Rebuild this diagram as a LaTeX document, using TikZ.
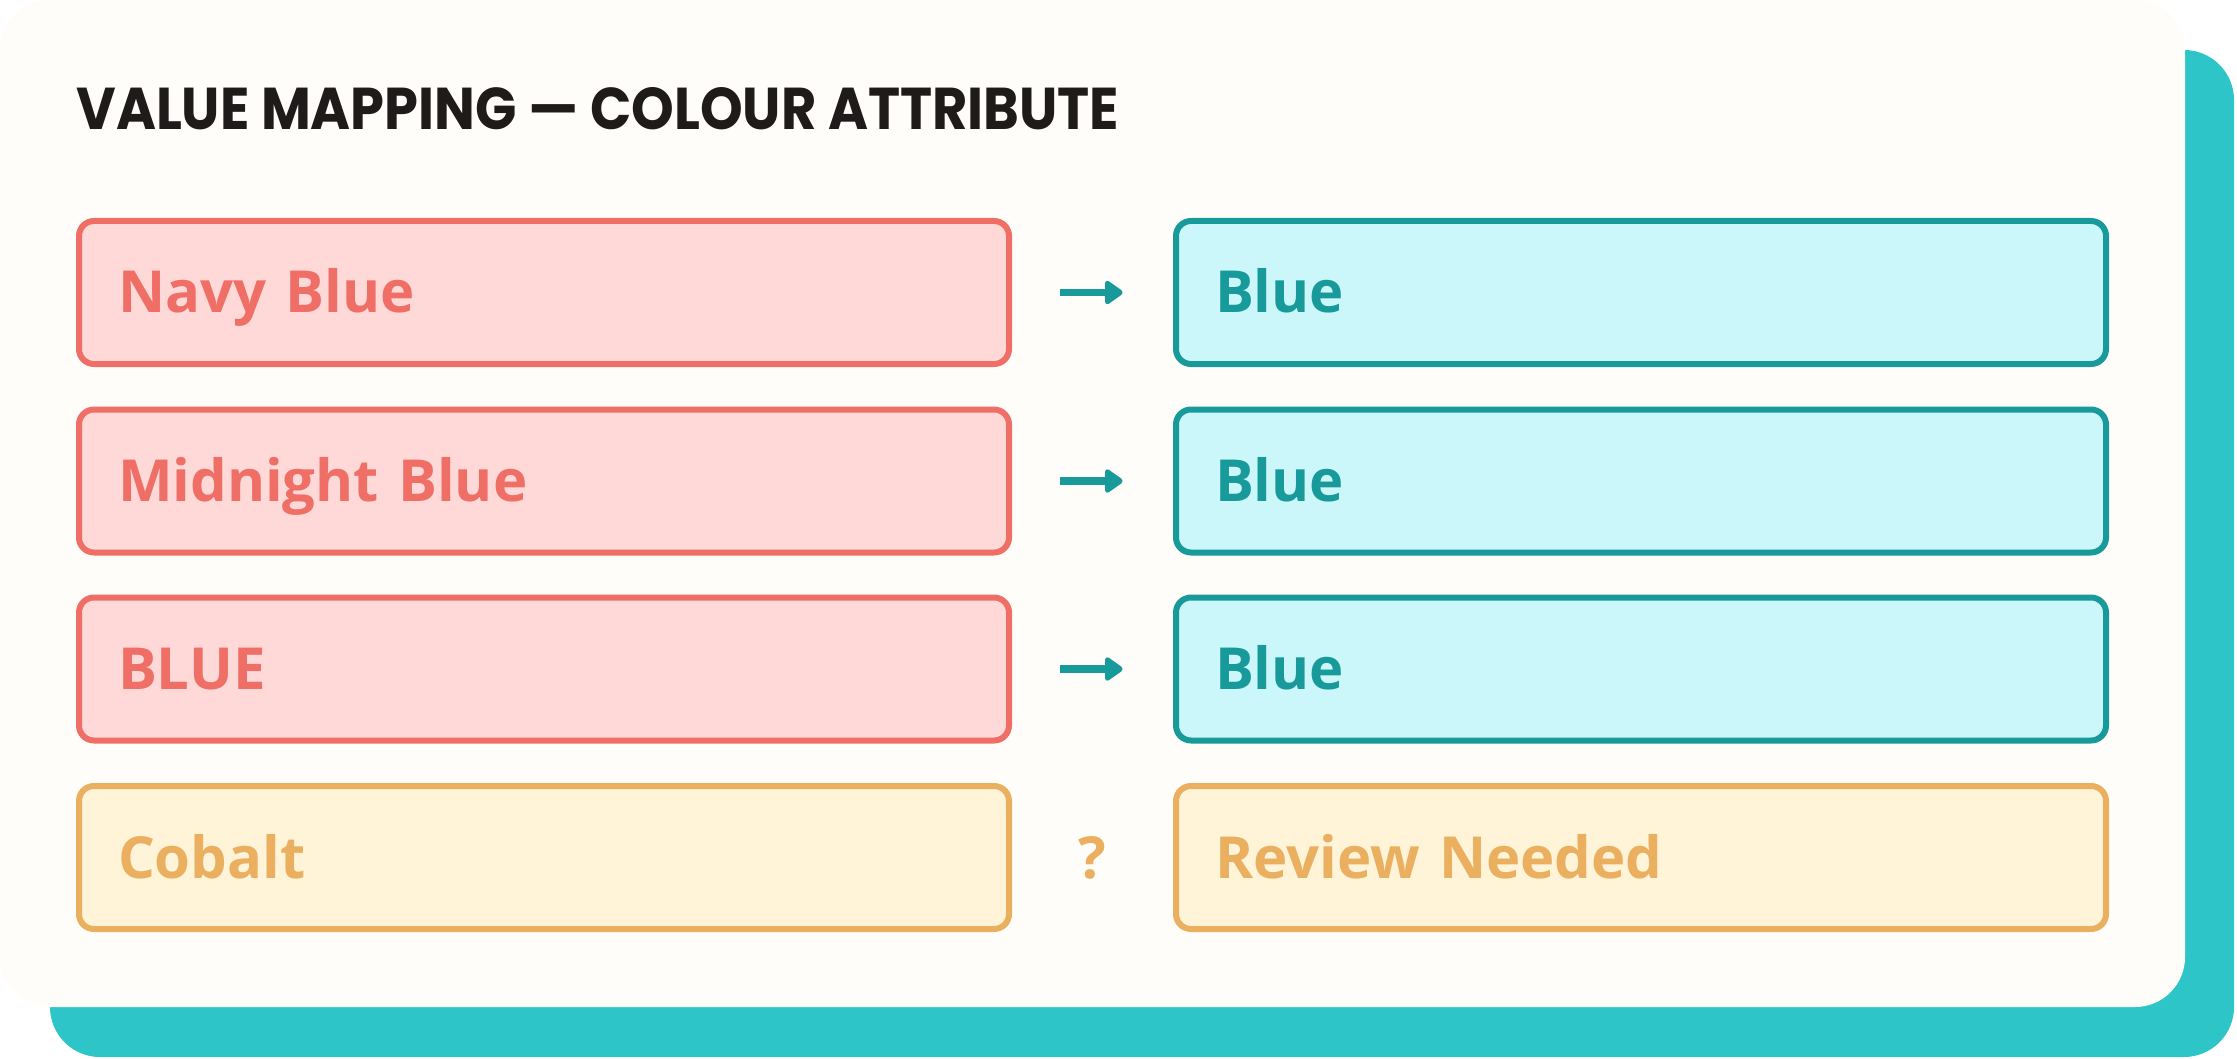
\documentclass[tikz,border=0pt]{standalone}
\usepackage{fontspec}
\setmainfont{Open Sans}
\newfontfamily\titlefont{Poppins}
\newfontfamily\boxfont{Open Sans}
\usetikzlibrary{calc}
\definecolor{cardbg}{HTML}{FFFDF9}
\definecolor{shadowteal}{HTML}{2EC5C9}
\definecolor{titleink}{HTML}{1F1B1B}
\definecolor{redline}{HTML}{EF6F66}
\definecolor{redfill}{HTML}{FFD9D8}
\definecolor{tealline}{HTML}{189A9B}
\definecolor{tealfill}{HTML}{CBF7FA}
\definecolor{orangeline}{HTML}{EAB060}
\definecolor{orangefill}{HTML}{FFF3D8}
\tikzset{
  valbox/.style={rectangle, rounded corners=7.5pt, line width=3pt,
    minimum width=465pt, minimum height=71.5pt, inner xsep=19.5pt, inner ysep=0pt,
    text width=426pt, align=left, text height=20.5pt, text depth=0pt,
    font=\boxfont\bfseries\fontsize{29}{31}\selectfont},
  srcbox/.style={valbox, draw=redline, fill=redfill, text=redline},
  dstbox/.style={valbox, draw=tealline, fill=tealfill, text=tealline},
  warnbox/.style={valbox, draw=orangeline, fill=orangefill, text=orangeline},
  mapshaft/.style={draw=tealline, line width=3.6pt},
  maphead/.style={fill=tealline, draw=tealline, line width=1pt, line join=round, rounded corners=1.5pt},
  qmark/.style={text=orangeline, inner sep=0pt, text height=20.5pt, text depth=0pt,
    font=\boxfont\bfseries\fontsize{29}{31}\selectfont},
}
\begin{document}
\begin{tikzpicture}[x=0.5pt,y=-0.5pt]
\useasboundingbox (0,0) rectangle (2237,1059);
\fill[white] (0,0) rectangle (2237,1059);
\fill[shadowteal, rounded corners=25pt] (50,50) rectangle (2234,1057);
\fill[cardbg, rounded corners=25pt] (0,0) rectangle (2185,1007);
\node[anchor=base west, inner sep=0pt, text=titleink,
  font=\titlefont\bfseries\fontsize{29.5}{32}\selectfont] (title) at (76,130)
  {\scalebox{0.92}[1]{VALUE MAPPING — COLOUR ATTRIBUTE}};
% rows
\node[srcbox] (l1) at (544,292.5) {Navy Blue};
\node[dstbox] (r1) at (1641,292.5) {Blue};
\node[srcbox] (l2) at (544,481) {Midnight Blue};
\node[dstbox] (r2) at (1641,481) {Blue};
\node[srcbox] (l3) at (544,669) {BLUE};
\node[dstbox] (r3) at (1641,669) {Blue};
\node[warnbox] (l4) at (544,857.5) {Cobalt};
\node[warnbox] (r4) at (1641,857.5) {Review Needed};
% arrows
\foreach \i in {1,2,3}{
  \coordinate (as\i) at ([xshift=24pt]l\i.east);
  \coordinate (ae\i) at ([xshift=-24.5pt]r\i.west);
  \draw[mapshaft] (as\i) -- ([xshift=-6pt]ae\i);
  \filldraw[maphead] ([xshift=-0.5pt]ae\i) -- ++(-8.5pt,6pt) -- ++(0,-12pt) -- cycle;
}
\node[qmark] (q) at ($(l4.east)!0.5!(r4.west)$) {?};
\end{tikzpicture}
\end{document}
